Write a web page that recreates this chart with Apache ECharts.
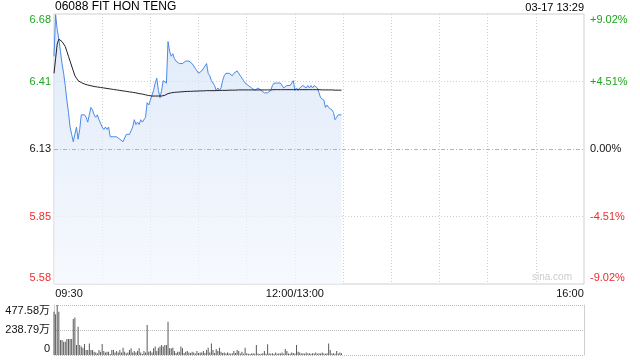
<!DOCTYPE html>
<html>
<head>
<meta charset="utf-8">
<script src="https://cdn.jsdelivr.net/npm/echarts@6/dist/echarts.min.js"></script>
<style>html,body{margin:0;padding:0;background:#fff}#c{width:640px;height:360px}</style>
</head>
<body>
<div id="c"></div>
<script>
const stockTitle = '06088 FIT HON TENG';
const stamp = '03-17 13:29';
const prevClose = 6.13;
const pctLimit = 9.02;
const pctStep = 4.51;
const volMax = 477.58;
const volStep = 238.79;
const volUnit = '万';

// minute categories 09:30 .. 12:00/13:00 .. 16:00
const categories = [];
for (let m = 0; m <= 330; m++) {
  let t;
  if (m < 150) t = 9 * 60 + 30 + m;
  else if (m === 150) { categories.push('12:00/13:00'); continue; }
  else t = 13 * 60 + (m - 150);
  const h = Math.floor(t / 60), mm = t % 60;
  categories.push((h < 10 ? '0' : '') + h + ':' + (mm < 10 ? '0' : '') + mm);
}
const xLabelIndex = [0, 150, 330];

const price = [
  6.51,6.68,6.62,6.58,6.53,6.48,6.44,6.39,6.33,6.28,
  6.22,6.19,6.16,6.16,6.22,6.17,6.21,6.27,6.27,6.27,
  6.26,6.24,6.27,6.30,6.29,6.27,6.26,6.27,6.25,6.25,
  6.22,6.21,6.22,6.21,6.22,6.18,6.18,6.18,6.18,6.18,
  6.18,6.17,6.17,6.16,6.16,6.19,6.19,6.19,6.19,6.22,
  6.25,6.23,6.24,6.23,6.25,6.24,6.24,6.26,6.32,6.31,
  6.33,6.35,6.37,6.40,6.42,6.37,6.34,6.37,6.41,6.41,
  6.40,6.57,6.53,6.51,6.52,6.50,6.49,6.49,6.48,6.48,
  6.48,6.48,6.49,6.49,6.49,6.49,6.48,6.47,6.46,6.45,
  6.44,6.44,6.45,6.45,6.47,6.48,6.44,6.43,6.41,6.41,
  6.39,6.37,6.38,6.37,6.38,6.41,6.43,6.44,6.44,6.44,
  6.44,6.43,6.44,6.44,6.45,6.44,6.43,6.42,6.41,6.40,
  6.40,6.39,6.39,6.38,6.38,6.37,6.37,6.38,6.38,6.37,
  6.37,6.36,6.36,6.36,6.36,6.37,6.39,6.40,6.40,6.40,
  6.40,6.40,6.40,6.38,6.38,6.39,6.39,6.39,6.40,6.41,
  6.37,6.38,6.37,6.38,6.38,6.39,6.39,6.38,6.39,6.38,
  6.39,6.38,6.39,6.39,6.38,6.36,6.34,6.34,6.33,6.30,
  6.31,6.30,6.30,6.29,6.28,6.25,6.26,6.27,6.27,6.27
];

const avgPrice = [
  6.44,6.50,6.56,6.58,6.58,6.57,6.56,6.55,6.53,6.51,
  6.49,6.47,6.45,6.43,6.42,6.41,6.405,6.402,6.399,6.396,
  6.394,6.392,6.390,6.389,6.388,6.386,6.385,6.384,6.383,6.382,
  6.381,6.380,6.379,6.378,6.377,6.376,6.375,6.374,6.373,6.372,
  6.371,6.370,6.369,6.368,6.367,6.366,6.365,6.364,6.363,6.362,
  6.361,6.360,6.359,6.357,6.356,6.355,6.354,6.352,6.350,6.349,
  6.348,6.347,6.347,6.347,6.347,6.347,6.347,6.347,6.348,6.350,
  6.353,6.357,6.359,6.360,6.361,6.362,6.363,6.363,6.364,6.364,
  6.365,6.365,6.365,6.366,6.366,6.366,6.366,6.367,6.367,6.367,
  6.368,6.368,6.368,6.368,6.368,6.369,6.369,6.369,6.369,6.369,
  6.369,6.369,6.370,6.370,6.370,6.370,6.370,6.370,6.371,6.371,
  6.371,6.371,6.371,6.371,6.372,6.372,6.372,6.372,6.372,6.372,
  6.372,6.372,6.372,6.372,6.372,6.372,6.372,6.372,6.372,6.372,
  6.372,6.372,6.372,6.372,6.372,6.372,6.373,6.373,6.373,6.373,
  6.373,6.373,6.373,6.373,6.373,6.373,6.373,6.373,6.373,6.373,
  6.373,6.373,6.373,6.373,6.373,6.373,6.373,6.373,6.373,6.373,
  6.373,6.373,6.373,6.373,6.373,6.373,6.373,6.372,6.372,6.372,
  6.372,6.372,6.372,6.372,6.372,6.371,6.371,6.371,6.371,6.371
];

const volume = [
  413,389,477,413,143,143,127,127,153,153,
  153,153,344,357,95,271,95,80,70,105,
  48,48,111,
  48,48,32,25,16,48,32,105,38,25,
  32,32,10,48,48,25,38,25,48,25,
  70,32,16,25,48,64,25,38,25,38,
  64,25,10,38,25,
  287,
  32,38,25,64,80,38,70,80,95,80,95,95,
  318,
  64,64,70,38,20,32,32,80,64,20,
  32,38,25,18,32,25,14,38,20,25,
  25,38,18,48,70,25,111,48,20,57,
  38,70,32,18,25,14,25,16,12,16,
  38,20,48,38,14,32,12,70,16,12,
  10,14,16,12,95,14,10,12,16,38,
  12,102,16,12,16,10,25,12,16,14,
  25,12,57,38,14,12,25,18,14,95,
  32,25,14,16,12,25,14,16,12,16,
  14,25,12,16,14,25,14,12,16,111,
  48,14,16,12,38,14,25,16
];

const FONT = '"Liberation Sans", Arial, "Noto Sans CJK SC", sans-serif';
const GREEN = '#1fa51f';
const RED = '#ee2b2b';
const BLACK = '#111';
const GRID_C = '#cfcfcf';

const pctData = price.map(p => (p / prevClose - 1) * 100);
const pctAvg = avgPrice.map(p => (p / prevClose - 1) * 100);

function tok(color, pad) {
  return { color: color, fontSize: 11, fontFamily: FONT, padding: pad };
}
const yRich = {
  gt: tok(GREEN, [12, 0, 0, 0]), g: tok(GREEN, [0, 0, 0, 0]),
  k: tok(BLACK, [0, 0, 0, 0]), r: tok(RED, [0, 0, 0, 0]),
  rb: tok(RED, [0, 0, 12, 0]),
  kt: tok(BLACK, [12, 0, 0, 0]), kb: tok(BLACK, [0, 0, 12, 0])
};
const styleByIndex = ['rb', 'r', 'k', 'g', 'gt'];

const chart = echarts.init(document.getElementById('c'), null, { renderer: 'canvas' });
chart.setOption({
  animation: false,
  backgroundColor: '#fff',
  textStyle: { fontFamily: FONT },
  title: [
    { text: stockTitle, left: 55, top: 1, padding: 0,
      textStyle: { fontSize: 12, fontWeight: 'normal', color: '#000', fontFamily: FONT } },
    { text: stamp, right: 56, top: 2, padding: 0,
      textStyle: { fontSize: 11, fontWeight: 'normal', color: '#000', fontFamily: FONT } }
  ],
  graphic: [
    { type: 'text', left: 532, top: 272, silent: true,
      style: { text: 'sina.com', fill: '#cccccc', font: '10px ' + FONT } }
  ],
  grid: [
    { left: 54, top: 14, width: 530, height: 270, show: true, borderColor: GRID_C, borderWidth: 1, backgroundColor: 'transparent' },
    { left: 54, top: 305, width: 530, height: 50 }
  ],
  xAxis: [
    {
      type: 'category', gridIndex: 0, data: categories, boundaryGap: false,
      axisLine: { show: false }, axisTick: { show: false },
      splitLine: {
        show: true,
        interval: function (i) { return i % 30 === 0 && i > 0 && i < 330; },
        lineStyle: { color: GRID_C, type: [1, 2], width: 1 }
      },
      axisLabel: {
        show: true, margin: 4,
        interval: function (i) { return xLabelIndex.indexOf(i) >= 0; },
        formatter: function (v, i) {
          if (i === 0) return '{a|' + v + '}';
          if (i === 330) return '{e|' + v + '}';
          return '{c|' + v + '}';
        },
        rich: {
          a: tok(BLACK, [0, 0, 0, 30]),
          c: tok(BLACK, [0, 0, 0, 0]),
          e: tok(BLACK, [0, 28, 0, 0])
        }
      }
    },
    {
      type: 'category', gridIndex: 1, data: categories, boundaryGap: false,
      axisLine: { show: false }, axisTick: { show: false }, axisLabel: { show: false },
      splitLine: { show: false }
    }
  ],
  yAxis: [
    {
      type: 'value', gridIndex: 0, position: 'left',
      min: -pctLimit, max: pctLimit, interval: pctStep,
      axisLine: { show: false }, axisTick: { show: false },
      splitLine: { show: true, lineStyle: { color: ['transparent', GRID_C, 'transparent', GRID_C, 'transparent'], type: [1, 2], width: 1 } },
      axisLabel: {
        margin: 3,
        formatter: function (v, i) {
          const s = (prevClose * (1 + v / 100)).toFixed(2);
          return '{' + styleByIndex[i] + '|' + s + '}';
        },
        rich: yRich
      }
    },
    {
      type: 'value', gridIndex: 0, position: 'right',
      min: -pctLimit, max: pctLimit, interval: pctStep,
      axisLine: { show: false }, axisTick: { show: false }, splitLine: { show: false },
      axisLabel: {
        margin: 6,
        formatter: function (v, i) {
          let s;
          if (Math.abs(v) < 1e-9) s = '0.00%';
          else s = (v > 0 ? '+' : '') + v.toFixed(2) + '%';
          return '{' + styleByIndex[i] + '|' + s + '}';
        },
        rich: yRich
      }
    },
    {
      type: 'value', gridIndex: 1, position: 'left',
      min: 0, max: volMax, interval: volStep,
      axisLine: { show: true, lineStyle: { color: GRID_C } }, axisTick: { show: false },
      splitLine: { show: true, lineStyle: { color: '#bbbbbb', type: [1, 1], width: 1 } },
      axisLabel: {
        margin: 4,
        formatter: function (v, i) {
          if (i === 0) return '{kb|0}';
          const s = v.toFixed(2) + volUnit;
          return (i === 2 ? '{kt|' : '{k|') + s + '}';
        },
        rich: yRich
      }
    },
    {
      type: 'value', gridIndex: 1, position: 'right',
      min: 0, max: volMax, interval: volStep,
      axisLine: { show: true, lineStyle: { color: GRID_C } }, axisTick: { show: false },
      splitLine: { show: false }, axisLabel: { show: false }
    }
  ],
  series: [
    {
      type: 'line', xAxisIndex: 0, yAxisIndex: 0, data: pctData,
      symbol: 'none', smooth: false,
      lineStyle: { color: '#4a89e8', width: 1 },
      areaStyle: {
        origin: 'start',
        color: new echarts.graphic.LinearGradient(0, 0, 0, 1, [
          { offset: 0, color: '#d2e1f8' },
          { offset: 1, color: '#f3f7fd' }
        ])
      },
      markLine: {
        silent: true, symbol: ['none', 'none'], label: { show: false },
        lineStyle: { color: '#b5b5b5', type: [4, 2, 1, 2], width: 1 },
        data: [{ yAxis: 0 }]
      },
      z: 3
    },
    {
      type: 'line', xAxisIndex: 0, yAxisIndex: 0, data: pctAvg,
      symbol: 'none', lineStyle: { color: '#222', width: 1 }, z: 4
    },
    {
      type: 'bar', xAxisIndex: 1, yAxisIndex: 2, data: volume,
      barWidth: 1, itemStyle: { color: '#5a5a5a' }
    }
  ]
});
</script>
</body>
</html>
